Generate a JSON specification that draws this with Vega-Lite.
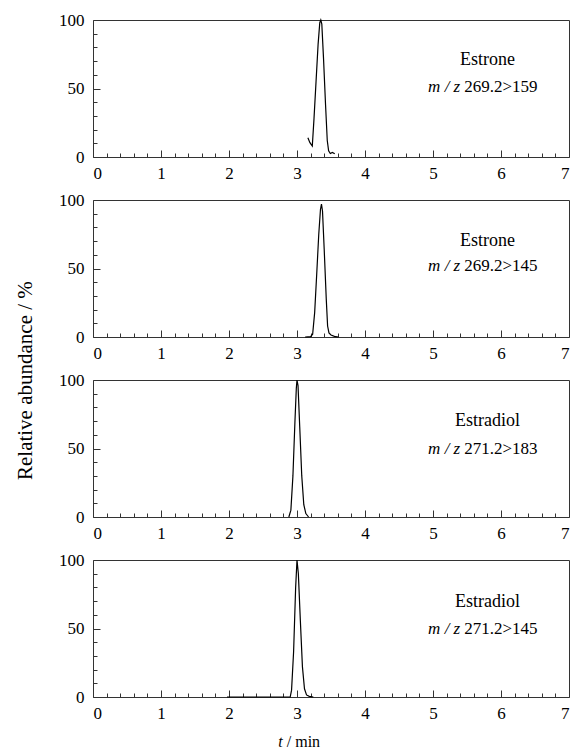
{
  "$schema": "https://vega.github.io/schema/vega-lite/v6.json",
  "padding": {"left": 14, "top": 10, "right": 5, "bottom": 5},
  "background": "white",
  "datasets": {
    "peaks": [
      {"panel": 1, "t": 3.16, "abund": 14},
      {"panel": 1, "t": 3.19, "abund": 10.5},
      {"panel": 1, "t": 3.225, "abund": 8},
      {"panel": 1, "t": 3.25, "abund": 28},
      {"panel": 1, "t": 3.28, "abund": 55},
      {"panel": 1, "t": 3.31, "abund": 82},
      {"panel": 1, "t": 3.335, "abund": 98},
      {"panel": 1, "t": 3.35, "abund": 100},
      {"panel": 1, "t": 3.365, "abund": 97},
      {"panel": 1, "t": 3.39, "abund": 72},
      {"panel": 1, "t": 3.42, "abund": 38},
      {"panel": 1, "t": 3.445, "abund": 12},
      {"panel": 1, "t": 3.465, "abund": 4.5},
      {"panel": 1, "t": 3.49, "abund": 2.5},
      {"panel": 1, "t": 3.52, "abund": 3.3},
      {"panel": 1, "t": 3.555, "abund": 2.3},
      {"panel": 2, "t": 3.12, "abund": 0},
      {"panel": 2, "t": 3.2, "abund": 0.3},
      {"panel": 2, "t": 3.23, "abund": 2},
      {"panel": 2, "t": 3.26, "abund": 18},
      {"panel": 2, "t": 3.29, "abund": 46},
      {"panel": 2, "t": 3.32, "abund": 75},
      {"panel": 2, "t": 3.345, "abund": 93},
      {"panel": 2, "t": 3.36, "abund": 97},
      {"panel": 2, "t": 3.375, "abund": 92},
      {"panel": 2, "t": 3.4, "abund": 64},
      {"panel": 2, "t": 3.43, "abund": 28},
      {"panel": 2, "t": 3.45, "abund": 8},
      {"panel": 2, "t": 3.47, "abund": 3},
      {"panel": 2, "t": 3.5, "abund": 1.5},
      {"panel": 2, "t": 3.55, "abund": 0.5},
      {"panel": 2, "t": 3.61, "abund": 0},
      {"panel": 3, "t": 2.88, "abund": 0},
      {"panel": 3, "t": 2.91, "abund": 5},
      {"panel": 3, "t": 2.94, "abund": 30},
      {"panel": 3, "t": 2.97, "abund": 70},
      {"panel": 3, "t": 2.99, "abund": 94},
      {"panel": 3, "t": 3.0, "abund": 100},
      {"panel": 3, "t": 3.015, "abund": 96},
      {"panel": 3, "t": 3.04, "abund": 66},
      {"panel": 3, "t": 3.07, "abund": 30},
      {"panel": 3, "t": 3.1, "abund": 9},
      {"panel": 3, "t": 3.13, "abund": 2.5},
      {"panel": 3, "t": 3.17, "abund": 0},
      {"panel": 4, "t": 1.97, "abund": 0},
      {"panel": 4, "t": 2.9, "abund": 0},
      {"panel": 4, "t": 2.92, "abund": 5},
      {"panel": 4, "t": 2.95, "abund": 33},
      {"panel": 4, "t": 2.98, "abund": 80},
      {"panel": 4, "t": 3.0, "abund": 100},
      {"panel": 4, "t": 3.02, "abund": 90},
      {"panel": 4, "t": 3.05, "abund": 55},
      {"panel": 4, "t": 3.08, "abund": 22},
      {"panel": 4, "t": 3.11, "abund": 6},
      {"panel": 4, "t": 3.14, "abund": 1.5},
      {"panel": 4, "t": 3.18, "abund": 0.5},
      {"panel": 4, "t": 3.24, "abund": 0}
    ],
    "labels": [
      {"panel": 1, "part": "name", "x": 5.8, "y": 71, "label": "Estrone"},
      {"panel": 1, "part": "ital", "x": 5.43, "y": 51, "label": "m / z"},
      {"panel": 1, "part": "val", "x": 5.43, "y": 51, "label": "269.2>159"},
      {"panel": 2, "part": "name", "x": 5.8, "y": 70, "label": "Estrone"},
      {"panel": 2, "part": "ital", "x": 5.43, "y": 52, "label": "m / z"},
      {"panel": 2, "part": "val", "x": 5.43, "y": 52, "label": "269.2>145"},
      {"panel": 3, "part": "name", "x": 5.8, "y": 70, "label": "Estradiol"},
      {"panel": 3, "part": "ital", "x": 5.43, "y": 50, "label": "m / z"},
      {"panel": 3, "part": "val", "x": 5.43, "y": 50, "label": "271.2>183"},
      {"panel": 4, "part": "name", "x": 5.8, "y": 69, "label": "Estradiol"},
      {"panel": 4, "part": "ital", "x": 5.43, "y": 50, "label": "m / z"},
      {"panel": 4, "part": "val", "x": 5.43, "y": 50, "label": "271.2>145"},
      {"panel": 4, "part": "xt_i", "x": 2.82, "y": -33, "label": "t"},
      {"panel": 4, "part": "xt_v", "x": 2.82, "y": -33, "label": "/ min"}
    ]
  },
  "title": {"text": "Relative abundance / %", "orient": "left", "anchor": "middle", "font": "Liberation Serif", "fontSize": 21, "fontWeight": "normal", "color": "#000", "offset": 22},
  "bounds": "flush",
  "spacing": 43,
  "vconcat": [
    {
      "width": 476, "height": 137,
      "resolve": {"axis": {"x": "independent", "y": "independent"}},
      "layer": [
        {"data": {"name": "peaks"}, "transform": [{"filter": "datum.panel == 1"}],
         "mark": {"type": "line", "color": "#000", "strokeWidth": 1.2},
         "encoding": {
           "x": {"field": "t", "type": "quantitative", "scale": {"domain": [0, 7], "nice": false, "zero": false}, "axis": {"orient": "bottom", "values": [0, 1, 2, 3, 4, 5, 6, 7], "tickSize": -7, "labelPadding": 15, "title": null}},
           "y": {"field": "abund", "type": "quantitative", "scale": {"domain": [0, 100], "nice": false}, "axis": {"orient": "left", "values": [0, 50, 100], "tickSize": -7, "labelPadding": 16, "title": null}}
         }},
        {"data": {"name": "labels"}, "transform": [{"filter": "datum.panel == 1 && datum.part == 'name'"}],
         "mark": {"type": "text", "font": "Liberation Serif", "fontSize": 18, "color": "#000", "align": "center", "baseline": "middle"},
         "encoding": {
           "x": {"field": "x", "type": "quantitative", "scale": {"domain": [0, 7], "nice": false, "zero": false}, "axis": {"orient": "bottom", "values": [0.2, 0.4, 0.6, 0.8, 1.2, 1.4, 1.6, 1.8, 2.2, 2.4, 2.6, 2.8, 3.2, 3.4, 3.6, 3.8, 4.2, 4.4, 4.6, 4.8, 5.2, 5.4, 5.6, 5.8, 6.2, 6.4, 6.6, 6.8], "tickSize": -4, "labels": false, "title": null}},
           "y": {"field": "y", "type": "quantitative", "scale": {"domain": [0, 100], "nice": false}, "axis": {"orient": "left", "values": [10, 20, 30, 40, 60, 70, 80, 90], "tickSize": -4, "labels": false, "title": null}},
           "text": {"field": "label"}
         }},
        {"data": {"name": "labels"}, "transform": [{"filter": "datum.panel == 1 && datum.part == 'ital'"}],
         "mark": {"type": "text", "font": "Liberation Serif", "fontSize": 17, "fontStyle": "italic", "color": "#000", "align": "right", "baseline": "middle", "dx": -2},
         "encoding": {
           "x": {"field": "x", "type": "quantitative", "scale": {"domain": [0, 7], "nice": false, "zero": false}, "axis": null},
           "y": {"field": "y", "type": "quantitative", "scale": {"domain": [0, 100], "nice": false}, "axis": null},
           "text": {"field": "label"}
         }},
        {"data": {"name": "labels"}, "transform": [{"filter": "datum.panel == 1 && datum.part == 'val'"}],
         "mark": {"type": "text", "font": "Liberation Serif", "fontSize": 17, "color": "#000", "align": "left", "baseline": "middle", "dx": 2},
         "encoding": {
           "x": {"field": "x", "type": "quantitative", "scale": {"domain": [0, 7], "nice": false, "zero": false}, "axis": null},
           "y": {"field": "y", "type": "quantitative", "scale": {"domain": [0, 100], "nice": false}, "axis": null},
           "text": {"field": "label"}
         }}
      ]
    },
    {
      "width": 476, "height": 137,
      "resolve": {"axis": {"x": "independent", "y": "independent"}},
      "layer": [
        {"data": {"name": "peaks"}, "transform": [{"filter": "datum.panel == 2"}],
         "mark": {"type": "line", "color": "#000", "strokeWidth": 1.2},
         "encoding": {
           "x": {"field": "t", "type": "quantitative", "scale": {"domain": [0, 7], "nice": false, "zero": false}, "axis": {"orient": "bottom", "values": [0, 1, 2, 3, 4, 5, 6, 7], "tickSize": -7, "labelPadding": 15, "title": null}},
           "y": {"field": "abund", "type": "quantitative", "scale": {"domain": [0, 100], "nice": false}, "axis": {"orient": "left", "values": [0, 50, 100], "tickSize": -7, "labelPadding": 16, "title": null}}
         }},
        {"data": {"name": "labels"}, "transform": [{"filter": "datum.panel == 2 && datum.part == 'name'"}],
         "mark": {"type": "text", "font": "Liberation Serif", "fontSize": 18, "color": "#000", "align": "center", "baseline": "middle"},
         "encoding": {
           "x": {"field": "x", "type": "quantitative", "scale": {"domain": [0, 7], "nice": false, "zero": false}, "axis": {"orient": "bottom", "values": [0.2, 0.4, 0.6, 0.8, 1.2, 1.4, 1.6, 1.8, 2.2, 2.4, 2.6, 2.8, 3.2, 3.4, 3.6, 3.8, 4.2, 4.4, 4.6, 4.8, 5.2, 5.4, 5.6, 5.8, 6.2, 6.4, 6.6, 6.8], "tickSize": -4, "labels": false, "title": null}},
           "y": {"field": "y", "type": "quantitative", "scale": {"domain": [0, 100], "nice": false}, "axis": {"orient": "left", "values": [10, 20, 30, 40, 60, 70, 80, 90], "tickSize": -4, "labels": false, "title": null}},
           "text": {"field": "label"}
         }},
        {"data": {"name": "labels"}, "transform": [{"filter": "datum.panel == 2 && datum.part == 'ital'"}],
         "mark": {"type": "text", "font": "Liberation Serif", "fontSize": 17, "fontStyle": "italic", "color": "#000", "align": "right", "baseline": "middle", "dx": -2},
         "encoding": {
           "x": {"field": "x", "type": "quantitative", "scale": {"domain": [0, 7], "nice": false, "zero": false}, "axis": null},
           "y": {"field": "y", "type": "quantitative", "scale": {"domain": [0, 100], "nice": false}, "axis": null},
           "text": {"field": "label"}
         }},
        {"data": {"name": "labels"}, "transform": [{"filter": "datum.panel == 2 && datum.part == 'val'"}],
         "mark": {"type": "text", "font": "Liberation Serif", "fontSize": 17, "color": "#000", "align": "left", "baseline": "middle", "dx": 2},
         "encoding": {
           "x": {"field": "x", "type": "quantitative", "scale": {"domain": [0, 7], "nice": false, "zero": false}, "axis": null},
           "y": {"field": "y", "type": "quantitative", "scale": {"domain": [0, 100], "nice": false}, "axis": null},
           "text": {"field": "label"}
         }}
      ]
    },
    {
      "width": 476, "height": 137,
      "resolve": {"axis": {"x": "independent", "y": "independent"}},
      "layer": [
        {"data": {"name": "peaks"}, "transform": [{"filter": "datum.panel == 3"}],
         "mark": {"type": "line", "color": "#000", "strokeWidth": 1.2},
         "encoding": {
           "x": {"field": "t", "type": "quantitative", "scale": {"domain": [0, 7], "nice": false, "zero": false}, "axis": {"orient": "bottom", "values": [0, 1, 2, 3, 4, 5, 6, 7], "tickSize": -7, "labelPadding": 15, "title": null}},
           "y": {"field": "abund", "type": "quantitative", "scale": {"domain": [0, 100], "nice": false}, "axis": {"orient": "left", "values": [0, 50, 100], "tickSize": -7, "labelPadding": 16, "title": null}}
         }},
        {"mark": {"type": "rule", "color": "#000", "strokeWidth": 2},
         "encoding": {"y": {"datum": 100, "type": "quantitative", "scale": {"domain": [0, 100], "nice": false}, "axis": null}}},
        {"data": {"name": "labels"}, "transform": [{"filter": "datum.panel == 3 && datum.part == 'name'"}],
         "mark": {"type": "text", "font": "Liberation Serif", "fontSize": 18, "color": "#000", "align": "center", "baseline": "middle"},
         "encoding": {
           "x": {"field": "x", "type": "quantitative", "scale": {"domain": [0, 7], "nice": false, "zero": false}, "axis": {"orient": "bottom", "values": [0.2, 0.4, 0.6, 0.8, 1.2, 1.4, 1.6, 1.8, 2.2, 2.4, 2.6, 2.8, 3.2, 3.4, 3.6, 3.8, 4.2, 4.4, 4.6, 4.8, 5.2, 5.4, 5.6, 5.8, 6.2, 6.4, 6.6, 6.8], "tickSize": -4, "labels": false, "title": null}},
           "y": {"field": "y", "type": "quantitative", "scale": {"domain": [0, 100], "nice": false}, "axis": {"orient": "left", "values": [10, 20, 30, 40, 60, 70, 80, 90], "tickSize": -4, "labels": false, "title": null}},
           "text": {"field": "label"}
         }},
        {"data": {"name": "labels"}, "transform": [{"filter": "datum.panel == 3 && datum.part == 'ital'"}],
         "mark": {"type": "text", "font": "Liberation Serif", "fontSize": 17, "fontStyle": "italic", "color": "#000", "align": "right", "baseline": "middle", "dx": -2},
         "encoding": {
           "x": {"field": "x", "type": "quantitative", "scale": {"domain": [0, 7], "nice": false, "zero": false}, "axis": null},
           "y": {"field": "y", "type": "quantitative", "scale": {"domain": [0, 100], "nice": false}, "axis": null},
           "text": {"field": "label"}
         }},
        {"data": {"name": "labels"}, "transform": [{"filter": "datum.panel == 3 && datum.part == 'val'"}],
         "mark": {"type": "text", "font": "Liberation Serif", "fontSize": 17, "color": "#000", "align": "left", "baseline": "middle", "dx": 2},
         "encoding": {
           "x": {"field": "x", "type": "quantitative", "scale": {"domain": [0, 7], "nice": false, "zero": false}, "axis": null},
           "y": {"field": "y", "type": "quantitative", "scale": {"domain": [0, 100], "nice": false}, "axis": null},
           "text": {"field": "label"}
         }}
      ]
    },
    {
      "width": 476, "height": 137,
      "resolve": {"axis": {"x": "independent", "y": "independent"}},
      "layer": [
        {"data": {"name": "peaks"}, "transform": [{"filter": "datum.panel == 4"}],
         "mark": {"type": "line", "color": "#000", "strokeWidth": 1.2},
         "encoding": {
           "x": {"field": "t", "type": "quantitative", "scale": {"domain": [0, 7], "nice": false, "zero": false}, "axis": {"orient": "bottom", "values": [0, 1, 2, 3, 4, 5, 6, 7], "tickSize": -7, "labelPadding": 15, "title": null}},
           "y": {"field": "abund", "type": "quantitative", "scale": {"domain": [0, 100], "nice": false}, "axis": {"orient": "left", "values": [0, 50, 100], "tickSize": -7, "labelPadding": 16, "title": null}}
         }},
        {"data": {"name": "labels"}, "transform": [{"filter": "datum.panel == 4 && datum.part == 'name'"}],
         "mark": {"type": "text", "font": "Liberation Serif", "fontSize": 18, "color": "#000", "align": "center", "baseline": "middle"},
         "encoding": {
           "x": {"field": "x", "type": "quantitative", "scale": {"domain": [0, 7], "nice": false, "zero": false}, "axis": {"orient": "bottom", "values": [0.2, 0.4, 0.6, 0.8, 1.2, 1.4, 1.6, 1.8, 2.2, 2.4, 2.6, 2.8, 3.2, 3.4, 3.6, 3.8, 4.2, 4.4, 4.6, 4.8, 5.2, 5.4, 5.6, 5.8, 6.2, 6.4, 6.6, 6.8], "tickSize": -4, "labels": false, "title": null}},
           "y": {"field": "y", "type": "quantitative", "scale": {"domain": [0, 100], "nice": false}, "axis": {"orient": "left", "values": [10, 20, 30, 40, 60, 70, 80, 90], "tickSize": -4, "labels": false, "title": null}},
           "text": {"field": "label"}
         }},
        {"data": {"name": "labels"}, "transform": [{"filter": "datum.panel == 4 && datum.part == 'ital'"}],
         "mark": {"type": "text", "font": "Liberation Serif", "fontSize": 17, "fontStyle": "italic", "color": "#000", "align": "right", "baseline": "middle", "dx": -2},
         "encoding": {
           "x": {"field": "x", "type": "quantitative", "scale": {"domain": [0, 7], "nice": false, "zero": false}, "axis": null},
           "y": {"field": "y", "type": "quantitative", "scale": {"domain": [0, 100], "nice": false}, "axis": null},
           "text": {"field": "label"}
         }},
        {"data": {"name": "labels"}, "transform": [{"filter": "datum.panel == 4 && datum.part == 'val'"}],
         "mark": {"type": "text", "font": "Liberation Serif", "fontSize": 17, "color": "#000", "align": "left", "baseline": "middle", "dx": 2},
         "encoding": {
           "x": {"field": "x", "type": "quantitative", "scale": {"domain": [0, 7], "nice": false, "zero": false}, "axis": null},
           "y": {"field": "y", "type": "quantitative", "scale": {"domain": [0, 100], "nice": false}, "axis": null},
           "text": {"field": "label"}
         }},
        {"data": {"name": "labels"}, "transform": [{"filter": "datum.part == 'xt_i'"}],
         "mark": {"type": "text", "font": "Liberation Serif", "fontSize": 16, "fontStyle": "italic", "color": "#000", "align": "right", "baseline": "middle", "dx": -2},
         "encoding": {
           "x": {"field": "x", "type": "quantitative", "scale": {"domain": [0, 7], "nice": false, "zero": false}, "axis": null},
           "y": {"field": "y", "type": "quantitative", "scale": {"domain": [0, 100], "nice": false}, "axis": null},
           "text": {"field": "label"}
         }},
        {"data": {"name": "labels"}, "transform": [{"filter": "datum.part == 'xt_v'"}],
         "mark": {"type": "text", "font": "Liberation Serif", "fontSize": 16, "color": "#000", "align": "left", "baseline": "middle", "dx": 2},
         "encoding": {
           "x": {"field": "x", "type": "quantitative", "scale": {"domain": [0, 7], "nice": false, "zero": false}, "axis": null},
           "y": {"field": "y", "type": "quantitative", "scale": {"domain": [0, 100], "nice": false}, "axis": null},
           "text": {"field": "label"}
         }}
      ]
    }
  ],
  "config": {
    "font": "Liberation Serif",
    "view": {"stroke": "#333", "strokeWidth": 1},
    "axis": {"labelFont": "Liberation Serif", "labelFontSize": 17, "labelColor": "#000", "domain": false, "grid": false, "tickColor": "#333", "tickWidth": 1}
  }
}
